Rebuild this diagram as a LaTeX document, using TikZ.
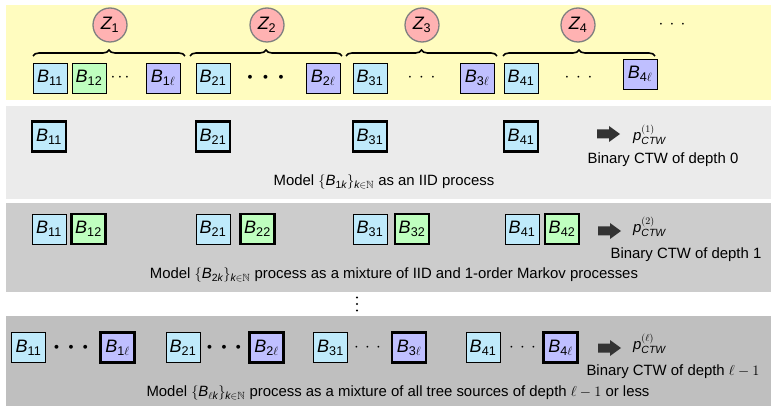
\documentclass[tikz,border=0pt]{standalone}
\usepackage{amsmath,amssymb}
\usepackage{fontspec}
\setmainfont{Liberation Sans}
\usetikzlibrary{decorations.pathreplacing}

% symbol with sans italic letter and upright index
\newcommand\Bs[1]{$\textit{B}_{#1}$}
% three dots whose outer centres lie #1 apart
\newcommand\onedot{\makebox[0pt]{$\cdot$}}
\newcommand\threedots[1]{\makebox[#1]{\onedot\hfill\onedot\hfill\onedot}}

\tikzset{
  blk/.style={draw=black, line width=0.9pt, minimum width=34pt, minimum height=30pt,
    inner sep=0pt, font=\fontsize{18}{20}\selectfont},
  thk/.style={line width=2.2pt},
  cy/.style={blk, fill=cyan!25},
  gr/.style={blk, fill=green!25},
  pu/.style={blk, fill=blue!25},
  zc/.style={circle, fill=red!30, draw=gray, line width=1.3pt, minimum size=34pt,
    inner sep=0pt, font=\fontsize{18}{20}\selectfont},
  brc/.style={decorate, decoration={brace, amplitude=6pt}, line width=1.6pt},
  txt/.style={font=\fontsize{14.9}{17}\selectfont, inner sep=0pt},
  dts/.style={inner sep=0pt, font=\fontsize{18}{20}\selectfont},
  bdts/.style={inner sep=0pt, font=\fontsize{24}{26}\selectfont\boldmath},
  fat/.style={fill=black!80, draw=none},
}

\begin{document}
\begin{tikzpicture}[x=1pt, y=-1pt]
\path[use as bounding box] (0,0) rectangle (771,406);

% background bands
\fill[yellow!25] (6,5) rectangle (771,100);
\fill[black!8]  (6,106) rectangle (771,199);
\fill[black!20] (6,203) rectangle (771,292);
\fill[black!25] (6,316) rectangle (771,406);

% ---- top band: blocks grouped under Z_i ----
\node[zc] (z1) at (110,25) {$\textit{Z}_{\textup{1}}$};
\node[zc] (z2) at (267,25) {$\textit{Z}_{\textup{2}}$};
\node[zc] (z3) at (422,25) {$\textit{Z}_{\textup{3}}$};
\node[zc] (z4) at (578,25) {$\textit{Z}_{\textup{4}}$};
\node[dts] (zd) at (672,25) {\threedots{22pt}};

\coordinate (b1s) at (33,56);  \coordinate (b1e) at (185,56);
\coordinate (b2s) at (190,56); \coordinate (b2e) at (342,56);
\coordinate (b3s) at (346,56); \coordinate (b3e) at (497,56);
\coordinate (b4s) at (503,56); \coordinate (b4e) at (655,56);
\draw[brc] (b1s) -- (b1e);
\draw[brc] (b2s) -- (b2e);
\draw[brc] (b3s) -- (b3e);
\draw[brc] (b4s) -- (b4e);

\node[cy] (t11) at (50,78)  {\Bs{\textup{11}}};
\node[gr] (t12) at (89,78)  {\Bs{\textup{12}}};
\node[dts] (td1) at (120,78) {\threedots{14pt}};
\node[pu] (t1l) at (163,78) {\Bs{\textup{1}\ell}};
\node[cy] (t21) at (213,78) {\Bs{\textup{21}}};
\node[bdts] (td2) at (265.5,78) {\threedots{31pt}};
\node[pu] (t2l) at (323,78) {\Bs{\textup{2}\ell}};
\node[cy] (t31) at (370,78) {\Bs{\textup{31}}};
\node[dts] (td3) at (421.5,78) {\threedots{23pt}};
\node[pu] (t3l) at (477,78) {\Bs{\textup{3}\ell}};
\node[cy] (t41) at (521,78) {\Bs{\textup{41}}};
\node[dts] (td4) at (578.5,78) {\threedots{23pt}};
\node[pu] (t4l) at (640,74) {\Bs{\textup{4}\ell}};

% ---- depth 0 ----
\node[cy,thk] (a11) at (49,136.5)  {\Bs{\textup{11}}};
\node[cy,thk] (a21) at (213,136.5) {\Bs{\textup{21}}};
\node[cy,thk] (a31) at (370,136.5) {\Bs{\textup{31}}};
\node[cy,thk] (a41) at (521,136.5) {\Bs{\textup{41}}};
\coordinate (ar1) at (597,134);
\fill[fat] (ar1) ++(0,-4.5) -- ++(12,0) -- ++(0,-3.5) -- ++(11,8) -- ++(-11,8) -- ++(0,-3.5) -- ++(-12,0) -- cycle;
\node[txt, anchor=west] (p1) at (633,135) {$\textit{p}^{(1)}_{\textit{CTW}}$};
\node[txt] (c1) at (663,160) {Binary CTW of depth 0};
\node[txt] (m1) at (384,182) {Model $\{\textit{B}_{\textup{1}\textit{k}}\}_{\textit{k}\in\mathbb{N}}$ as an IID process};

% ---- depth 1 ----
\node[cy] (b11) at (49,229)    {\Bs{\textup{11}}};
\node[gr,thk] (b12) at (88.5,229) {\Bs{\textup{12}}};
\node[cy] (b21) at (213,229)   {\Bs{\textup{21}}};
\node[gr,thk] (b22) at (257.5,229) {\Bs{\textup{22}}};
\node[cy] (b31) at (370,229)   {\Bs{\textup{31}}};
\node[gr,thk] (b32) at (412,229) {\Bs{\textup{32}}};
\node[cy] (b41) at (522,229)   {\Bs{\textup{41}}};
\node[gr,thk] (b42) at (562,229) {\Bs{\textup{42}}};
\coordinate (ar2) at (598,231);
\fill[fat] (ar2) ++(0,-4.5) -- ++(12,0) -- ++(0,-3.5) -- ++(11,8) -- ++(-11,8) -- ++(0,-3.5) -- ++(-12,0) -- cycle;
\node[txt, anchor=west] (p2) at (633,227) {$\textit{p}^{(2)}_{\textit{CTW}}$};
\node[txt] (c2) at (686,255) {Binary CTW of depth 1};
\node[txt] (m2) at (394,275) {Model $\{\textit{B}_{\textup{2}\textit{k}}\}_{\textit{k}\in\mathbb{N}}$ process as a mixture of IID and 1-order Markov processes};

% vertical dots between the rows
\coordinate (vd) at (357,304);
\fill (vd) ++(0,-6.5) circle (1.1pt) (vd) circle (1.1pt) (vd) ++(0,6.5) circle (1.1pt);

% ---- depth l-1 ----
\node[cy] (c11) at (28.5,347.5)  {\Bs{\textup{11}}};
\node[bdts] (cd1) at (71,347.5)  {\threedots{29pt}};
\node[pu,thk] (c1l) at (117.5,347.5) {\Bs{\textup{1}\ell}};
\node[cy] (c21) at (183,347.5)   {\Bs{\textup{21}}};
\node[bdts] (cd2) at (224,347.5) {\threedots{29pt}};
\node[pu,thk] (c2l) at (266.5,347.5) {\Bs{\textup{2}\ell}};
\node[cy] (c31) at (330.5,347.5) {\Bs{\textup{31}}};
\node[dts] (cd3) at (367.5,347.5) {\threedots{22pt}};
\node[pu,thk] (c3l) at (409,347.5) {\Bs{\textup{3}\ell}};
\node[cy] (c41) at (483,347.5)   {\Bs{\textup{41}}};
\node[dts] (cd4) at (522.5,347.5) {\threedots{22pt}};
\node[pu,thk] (c4l) at (560.5,347.5) {\Bs{\textup{4}\ell}};
\coordinate (ar3) at (598,348);
\fill[fat] (ar3) ++(0,-4.5) -- ++(12,0) -- ++(0,-3.5) -- ++(11,8) -- ++(-11,8) -- ++(0,-3.5) -- ++(-12,0) -- cycle;
\node[txt, anchor=west] (p3) at (633,344) {$\textit{p}^{(\ell)}_{\textit{CTW}}$};
\node[txt] (c3) at (673,372) {Binary CTW of depth $\ell-1$};
\node[txt] (m3) at (398,393) {Model $\{\textit{B}_{\ell\textit{k}}\}_{\textit{k}\in\mathbb{N}}$ process as a mixture of all tree sources of depth $\ell-1$ or less};
\end{tikzpicture}
\end{document}
